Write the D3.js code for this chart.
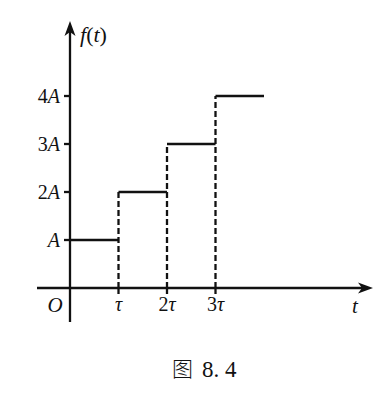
<!DOCTYPE html>
<html><head><meta charset="utf-8">
<script src="https://cdn.jsdelivr.net/npm/d3@7"></script>
<style>html,body{margin:0;padding:0;background:#fff;}svg{display:block;}
.serif{font-family:"Liberation Serif",serif;}
.cjk{font-family:"Noto Sans CJK SC",sans-serif;}
</style>
</head><body>
<script>
// Data
const levels = [1, 2, 3, 4];               // f(t) value on each interval, in units of A
const stepStarts = [0, 1, 2, 3];            // interval start, in units of tau
const stepEnds = [1, 2, 3, 4];              // interval end, in units of tau
const xTickValues = [1, 2, 3];
const xTickLabels = ["τ", "2τ", "3τ"];
const yTickValues = [1, 2, 3, 4];
const yTickLabels = ["A", "2A", "3A", "4A"];

const W = 380, H = 404;
const svg = d3.select("body").append("svg").attr("width", W).attr("height", H);

const x = d3.scaleLinear().domain([0, 1]).range([70, 118.5]);
const y = d3.scaleLinear().domain([0, 1]).range([288, 240]);

const ink = "#111";
const sw = 2.3;

// axes
svg.append("line").attr("x1", 37).attr("x2", 366).attr("y1", y(0)).attr("y2", y(0))
  .attr("stroke", ink).attr("stroke-width", sw);
svg.append("line").attr("x1", x(0)).attr("x2", x(0)).attr("y1", 322).attr("y2", 30)
  .attr("stroke", ink).attr("stroke-width", sw);

// arrows
function arrow(tx, ty, dir) {
  const L = 15, Wd = 5.5, notch = 4;
  let p;
  if (dir === "up") p = [[tx, ty], [tx + Wd, ty + L], [tx, ty + L - notch], [tx - Wd, ty + L]];
  else p = [[tx, ty], [tx - L, ty - Wd], [tx - L + notch, ty], [tx - L, ty + Wd]];
  svg.append("path").attr("d", "M" + p.map(d => d.join(",")).join("L") + "Z").attr("fill", ink);
}
arrow(x(0), 21, "up");
arrow(373, y(0), "right");

// y ticks
svg.selectAll(".yt").data(yTickValues).join("line")
  .attr("x1", x(0) - 6).attr("x2", x(0)).attr("y1", d => y(d)).attr("y2", d => y(d))
  .attr("stroke", ink).attr("stroke-width", sw);
svg.selectAll(".yl").data(yTickValues).join("text")
  .attr("class", "serif")
  .attr("x", x(0) - 10).attr("y", d => y(d) + 7).attr("text-anchor", "end")
  .attr("font-size", 20).attr("fill", ink)
  .each(function(d, i) {
    const lab = yTickLabels[i];
    const t = d3.select(this);
    const num = lab.slice(0, -1);
    if (num) t.append("tspan").text(num);
    t.append("tspan").attr("font-style", "italic").text("A");
  });

// x ticks
svg.selectAll(".xt").data(xTickValues).join("line")
  .attr("x1", d => x(d)).attr("x2", d => x(d)).attr("y1", y(0)).attr("y2", y(0) + 6)
  .attr("stroke", ink).attr("stroke-width", sw);
svg.selectAll(".xl").data(xTickValues).join("text")
  .attr("class", "serif")
  .attr("x", d => x(d)).attr("y", 311).attr("text-anchor", "middle")
  .attr("font-size", 20).attr("fill", ink)
  .each(function(d, i) {
    const lab = xTickLabels[i];
    const t = d3.select(this);
    const num = lab.slice(0, -1);
    if (num) t.append("tspan").text(num);
    t.append("tspan").attr("font-style", "italic").text("τ");
  });

// step segments (solid)
svg.selectAll(".seg").data(levels).join("line")
  .attr("x1", (d, i) => x(stepStarts[i])).attr("x2", (d, i) => x(stepEnds[i]))
  .attr("y1", d => y(d)).attr("y2", d => y(d))
  .attr("stroke", ink).attr("stroke-width", sw);

// dashed verticals at jumps
svg.selectAll(".jump").data(xTickValues).join("line")
  .attr("x1", d => x(d)).attr("x2", d => x(d))
  .attr("y1", y(0)).attr("y2", (d, i) => y(levels[i + 1]))
  .attr("stroke", ink).attr("stroke-width", sw).attr("stroke-dasharray", "6,3");

// labels
const ft = svg.append("text").attr("class", "serif").attr("x", 80).attr("y", 42)
  .attr("font-size", 22).attr("fill", ink);
ft.append("tspan").attr("font-style", "italic").text("f");
ft.append("tspan").text("(");
ft.append("tspan").attr("font-style", "italic").text("t");
ft.append("tspan").text(")");

svg.append("text").attr("class", "serif").attr("x", 55).attr("y", 312).attr("text-anchor", "middle")
  .attr("font-size", 21).attr("font-style", "italic").attr("fill", ink).text("O");
svg.append("text").attr("class", "serif").attr("x", 355).attr("y", 313).attr("text-anchor", "middle")
  .attr("font-size", 21).attr("font-style", "italic").attr("fill", ink).text("t");

// caption
svg.append("text").attr("class", "cjk").attr("x", 172).attr("y", 376)
  .attr("font-size", 21).attr("font-weight", 300).attr("fill", ink).text("图");
svg.append("text").attr("class", "serif").attr("x", 202).attr("y", 377)
  .attr("font-size", 23).attr("fill", ink).text("8. 4");
</script>
</body></html>
